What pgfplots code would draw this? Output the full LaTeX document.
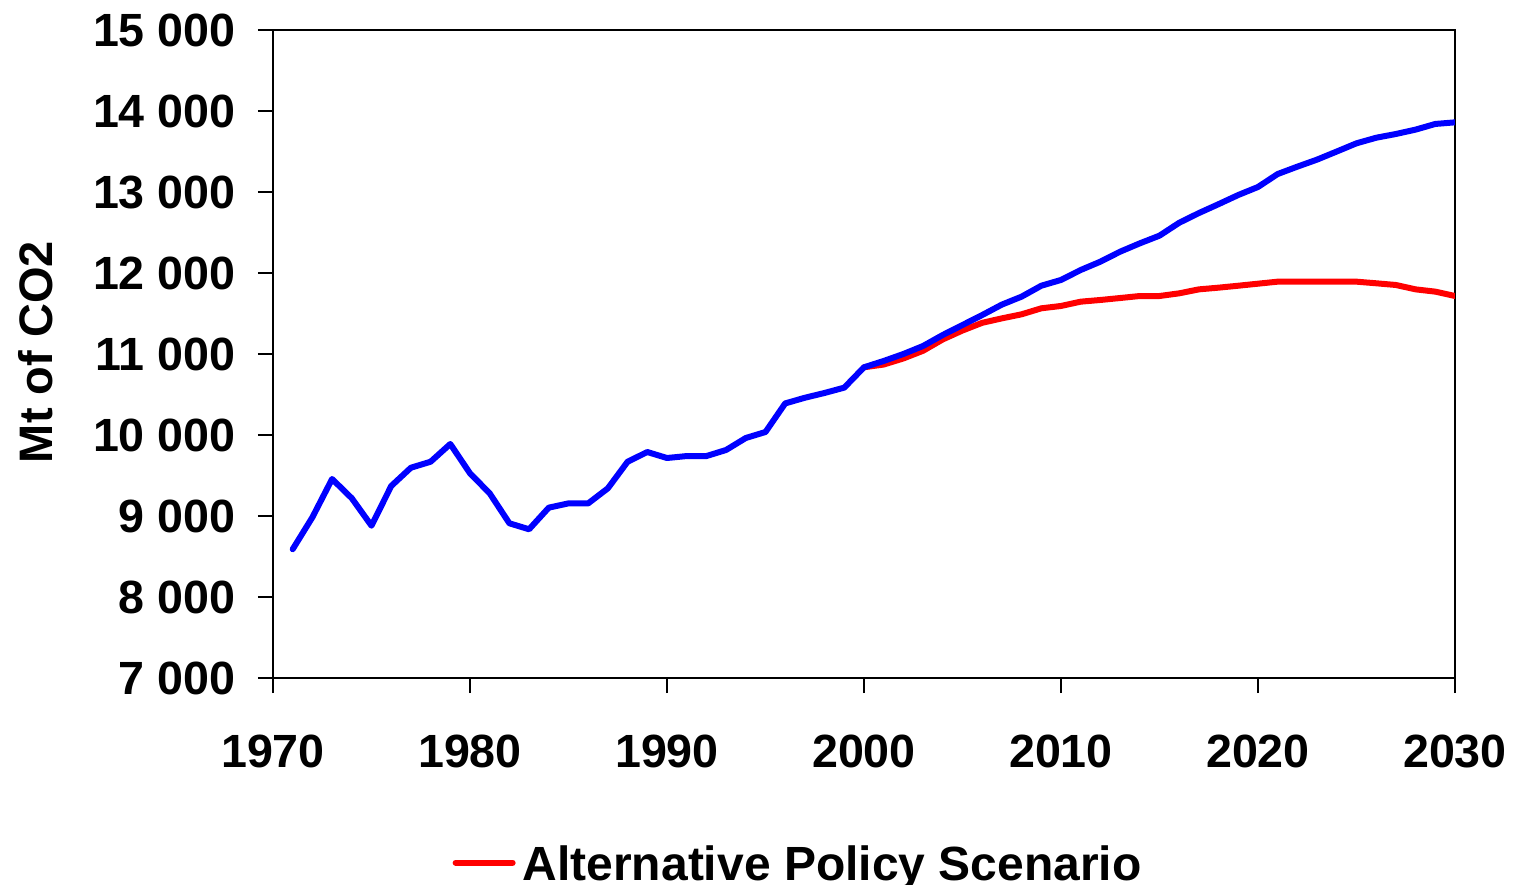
\documentclass[border=0pt]{standalone}
\usepackage{pgfplots}
\pgfplotsset{compat=1.18}
\usepackage{fontspec}
\setmainfont{Liberation Sans}
\begin{document}
\begin{tikzpicture}
\begin{axis}[
  at={(0,0)}, anchor=south west,
  scale only axis,
  width=591pt, height=324pt,
  xmin=1970, xmax=2030, ymin=7000, ymax=15000,
  scaled x ticks=false, scaled y ticks=false,
  xtick={1970,1980,...,2030},
  ytick={7000,8000,...,15000},
  yticklabels={7 000,8 000,9 000,10 000,11 000,12 000,13 000,14 000,15 000},
  xticklabels={1970,1980,1990,2000,2010,2020,2030},
  xtick pos=bottom, ytick pos=left,
  tick align=outside,
  major tick length=7.5pt,
  axis line style={line width=1pt, black},
  every tick/.style={line width=1pt, black},
  tick label style={font=\bfseries\fontsize{23.3}{28}\selectfont},
  yticklabel style={inner sep=0pt, anchor=east, xshift=-11pt},
  xticklabel style={inner sep=0pt, anchor=north, yshift=-21pt},
  every axis y label/.style={at={(axis description cs:-0.2005,0.503)}, rotate=90, anchor=center,
     font=\bfseries\fontsize{23.5}{28}\selectfont},
  ylabel={Mt of CO2},
  legend style={draw=none, fill=none, inner sep=0pt, outer sep=0pt,
     at={(axis description cs:0.152,-0.259)}, anchor=north west,
     font=\bfseries\fontsize{24}{28}\selectfont,
     nodes={inner sep=0pt, outer sep=0pt},
     column sep=3.5pt, row sep=8pt},
  legend cell align=left,
  legend image code/.code={\draw[#1] (0pt,1pt) -- (28.5pt,1pt);},
]
\addplot[red, line width=3pt, line join=round, line cap=round] coordinates {
(2000,10836) (2001,10870) (2002,10945) (2003,11040) (2004,11180) (2005,11290) (2006,11385)
(2007,11440) (2008,11490) (2009,11564) (2010,11593) (2011,11646) (2012,11667) (2013,11691)
(2014,11716) (2015,11716) (2016,11749) (2017,11798) (2018,11819) (2019,11843) (2020,11868)
(2021,11893) (2022,11893) (2023,11893) (2024,11893) (2025,11893) (2026,11873) (2027,11852)
(2028,11798) (2029,11770) (2030,11716)
};
\addlegendentry{Alternative Policy Scenario}
\addplot[blue, line width=3pt, line join=round, line cap=round] coordinates {
(1971,8590) (1972,8984) (1973,9457) (1974,9219) (1975,8880) (1976,9370) (1977,9596)
(1978,9670) (1979,9889) (1980,9527) (1981,9280) (1982,8910) (1983,8836) (1984,9103)
(1985,9156) (1986,9156) (1987,9342) (1988,9670) (1989,9790) (1990,9716) (1991,9740)
(1992,9740) (1993,9815) (1994,9963) (1995,10037) (1996,10390) (1997,10460) (1998,10519)
(1999,10585) (2000,10836) (2001,10914) (2002,11000) (2003,11099) (2004,11235) (2005,11358)
(2006,11481) (2007,11610) (2008,11708) (2009,11843) (2010,11914) (2011,12037) (2012,12140)
(2013,12263) (2014,12366) (2015,12461) (2016,12620) (2017,12740) (2018,12850) (2019,12963)
(2020,13062) (2021,13222) (2022,13313) (2023,13400) (2024,13500) (2025,13601) (2026,13670)
(2027,13716) (2028,13770) (2029,13840) (2030,13860)
};
\addlegendentry{Reference Scenario}
\end{axis}
\pgfresetboundingbox
\useasboundingbox (-136.5pt,-103pt) rectangle (621.5pt,339pt);
\end{tikzpicture}
\end{document}
